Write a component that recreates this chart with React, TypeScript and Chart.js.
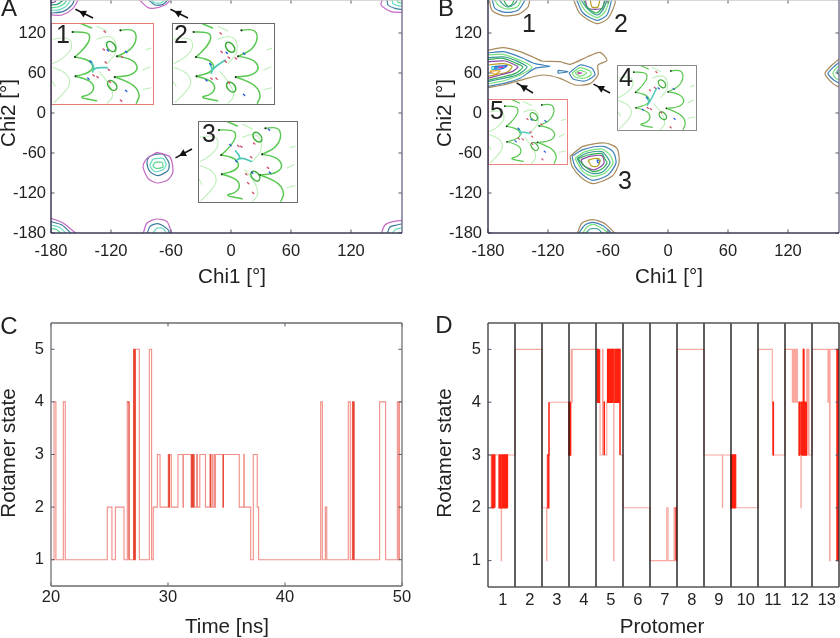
import React, { useEffect, useRef } from "react";
import { Chart, registerables } from "chart.js";

Chart.register(...registerables);

type P = [number, number];

const chiTicks = [-180, -120, -60, 0, 60, 120];
const stateTicks = [1, 2, 3, 4, 5];
const timeTicks = [20, 30, 40, 50];
const protomerTicks = [0.55, 1.55, 2.55, 3.55, 4.55, 5.55, 6.55, 7.55, 8.55, 9.55, 10.55, 11.55, 12.55];
const protomerLabels = ["1", "2", "3", "4", "5", "6", "7", "8", "9", "10", "11", "12", "13"];
const protomerEdges = [1, 2, 3, 4, 5, 6, 7, 8, 9, 10, 11, 12];

// ---- Panel A contour rings (chi1, chi2), outermost first ----
const aCentre: P[][] = [
  [[-74, -59], [-61, -66], [-58, -88], [-63, -100], [-74, -105], [-83, -98], [-88, -80], [-84, -68], [-74, -59]],
  [[-76, -62], [-68, -62], [-62, -75], [-63, -86], [-73, -94], [-81, -88], [-84, -75], [-82, -66], [-76, -62]],
  [[-78, -69], [-68, -68], [-65, -78], [-68, -85], [-76, -88], [-81, -79], [-78, -69]],
  [[-76, -74], [-69, -74], [-68, -81], [-75, -83], [-78, -79], [-76, -74]],
];
const aTopLeft: P[][] = [
  [[-180, 147], [-169, 147], [-158, 157], [-152, 172]],
  [[-180, 150], [-168, 152], [-159, 162], [-156, 172]],
  [[-180, 154], [-171, 155], [-163, 163], [-160, 172]],
  [[-180, 158], [-173, 159], [-166, 165], [-164, 172]],
  [[-180, 162], [-174, 163], [-169, 168], [-168, 172]],
  [[-180, 165], [-176, 167], [-174, 172]],
];
const aTopMid: P[][] = [
  [[-93, 172], [-84, 159], [-78, 157], [-66, 162], [-59, 172]],
  [[-84, 172], [-76, 162], [-68, 163], [-62, 172]],
  [[-81, 172], [-76, 165], [-69, 166], [-66, 172]],
];
const aBottomMid: P[][] = [
  [[-88, -182], [-84, -165], [-74, -159], [-64, -163], [-59, -182]],
  [[-84, -182], [-81, -170], [-73, -166], [-63, -175], [-61, -182]],
  [[-79, -182], [-74, -173], [-68, -173], [-64, -182]],
];
const aBottomLeft: P[][] = [
  [[-180, -158], [-168, -165], [-154, -182]],
  [[-180, -163], [-169, -168], [-159, -182]],
  [[-180, -168], [-171, -172], [-164, -182]],
  [[-180, -173], [-174, -175], [-169, -182]],
];
const aTopRight: P[][] = [
  [[152, 172], [150, 162], [160, 152], [172, 151]],
  [[156, 172], [157, 162], [164, 157], [172, 155]],
  [[161, 172], [162, 164], [167, 161], [172, 160]],
  [[166, 172], [167, 166], [172, 165]],
];
const aBottomRight: P[][] = [
  [[150, -182], [154, -168], [162, -163], [172, -161]],
  [[156, -182], [159, -171], [166, -168], [172, -166]],
  [[161, -182], [164, -175], [172, -172]],
];

// ---- Panel B contour rings ----
const bRidge: P[][] = [
  [[-180, 94], [-165, 98], [-148, 92], [-135, 84], [-126, 78], [-108, 77], [-98, 73], [-81, 84], [-68, 91], [-61, 79], [-70, 72], [-70, 57], [-78, 44], [-93, 42], [-108, 52], [-125, 57], [-148, 49], [-165, 42], [-180, 38]],
  [[-180, 90], [-165, 92], [-148, 84], [-133, 74], [-118, 70], [-133, 67], [-148, 52], [-165, 44], [-180, 40]],
  [[-180, 87], [-165, 88], [-148, 79], [-136, 69], [-148, 57], [-165, 48], [-180, 44]],
  [[-180, 83], [-163, 84], [-150, 77], [-141, 69], [-151, 57], [-165, 52], [-180, 47]],
  [[-180, 80], [-165, 82], [-151, 74], [-145, 69], [-153, 59], [-166, 54], [-180, 49]],
  [[-180, 77], [-163, 78], [-153, 72], [-150, 69], [-156, 62], [-168, 57], [-180, 52]],
  [[-180, 72], [-165, 74], [-156, 70], [-160, 62], [-171, 58], [-180, 55]],
  [[-173, 70], [-161, 71], [-165, 67], [-173, 66], [-173, 70]],
  [[-178, 63], [-168, 63], [-173, 58], [-178, 63]],
  [[-176, 70], [-170, 68], [-176, 65], [-176, 70]],
  [[-172, 69], [-164, 69], [-172, 68], [-172, 69]],
];
const bRidgeKnob: P[][] = [
  [[-110, 64], [-100, 62], [-110, 60], [-110, 64]],
  [[-99, 60], [-88, 72], [-76, 67], [-73, 57], [-83, 48], [-95, 51], [-99, 60]],
  [[-96, 60], [-88, 68], [-78, 63], [-77, 57], [-85, 52], [-93, 54], [-96, 60]],
  [[-93, 60], [-88, 64], [-81, 60], [-88, 55], [-93, 60]],
  [[-90, 61], [-86, 60], [-90, 59], [-90, 61]],
];
const bKnobColours = ["#3f80b8", "#3f80b8", "#78e078", "#78e078", "#c050b0"];
const bTopLeft: P[][] = [
  [[-179, 172], [-176, 154], [-165, 146], [-150, 148], [-140, 159], [-138, 172]],
  [[-176, 172], [-173, 157], [-163, 151], [-150, 154], [-142, 172]],
  [[-174, 172], [-170, 162], [-162, 156], [-151, 159], [-146, 172]],
  [[-170, 172], [-165, 163], [-160, 159], [-153, 164], [-150, 172]],
  [[-165, 172], [-162, 163], [-159, 160], [-155, 165], [-154, 172]],
];
const bTopMid: P[][] = [
  [[-95, 172], [-88, 149], [-71, 134], [-60, 142], [-53, 164], [-53, 172]],
  [[-92, 172], [-85, 150], [-71, 139], [-61, 147], [-56, 172]],
  [[-90, 172], [-83, 154], [-71, 143], [-63, 152], [-58, 172]],
  [[-88, 172], [-81, 157], [-71, 147], [-65, 155], [-60, 172]],
  [[-85, 172], [-81, 159], [-72, 150], [-66, 157], [-62, 172]],
  [[-83, 172], [-80, 157], [-66, 157], [-63, 172]],
  [[-78, 172], [-76, 159], [-70, 159], [-68, 172]],
];
const bCentre: P[][] = [
  [[-98, -65], [-85, -50], [-63, -45], [-51, -53], [-49, -75], [-56, -95], [-75, -106], [-86, -98], [-96, -80], [-98, -65]],
  [[-96, -65], [-85, -55], [-65, -50], [-55, -58], [-52, -75], [-60, -93], [-75, -101], [-85, -93], [-93, -80], [-96, -65]],
  [[-93, -68], [-83, -58], [-66, -54], [-58, -63], [-55, -75], [-63, -90], [-75, -95], [-85, -88], [-93, -68]],
  [[-91, -68], [-81, -60], [-66, -58], [-60, -68], [-58, -75], [-65, -88], [-75, -91], [-85, -83], [-91, -68]],
  [[-90, -69], [-80, -63], [-66, -61], [-63, -69], [-61, -75], [-66, -84], [-75, -88], [-83, -80], [-90, -69]],
  [[-87, -70], [-78, -65], [-66, -64], [-64, -75], [-70, -83], [-76, -85], [-85, -78], [-87, -70]],
  [[-80, -71], [-73, -68], [-68, -70], [-70, -79], [-76, -80], [-80, -71]],
  [[-71, -70], [-68, -72], [-70, -75], [-71, -70]],
];
const bBottomMid: P[][] = [
  [[-91, -182], [-86, -165], [-75, -160], [-63, -166], [-52, -182]],
  [[-90, -182], [-83, -168], [-75, -164], [-65, -169], [-55, -182]],
  [[-86, -182], [-81, -171], [-75, -167], [-66, -173], [-58, -182]],
  [[-83, -182], [-78, -174], [-70, -174], [-65, -182]],
];
const bRight: P[][] = [
  [[172, 82], [164, 72], [157, 59], [165, 44], [172, 38]],
  [[172, 77], [165, 68], [160, 59], [166, 49], [172, 44]],
  [[172, 72], [167, 65], [165, 59], [168, 52], [172, 49]],
  [[172, 67], [169, 62], [172, 54]],
];

// ---- Panel C: time at which the rotamer state changes, and the new state ----
const timeSteps = [20, 20.26, 20.42, 21.05, 21.22, 24.81, 25.21, 25.5, 26.24, 26.52, 26.67, 27.05, 27.08, 27.12, 27.15, 27.2, 27.55, 28.4, 28.6, 28.74, 29.09, 29.32, 30.02, 30.07, 30.13, 30.28, 30.85, 31.28, 31.32, 31.97, 32.02, 32.1, 32.15, 32.22, 32.45, 32.52, 32.72, 33.2, 33.58, 33.63, 33.75, 33.85, 33.98, 34.03, 34.06, 34.68, 34.73, 36.09, 36.48, 36.52, 37.07, 37.29, 37.63, 37.75, 43.05, 43.19, 43.45, 43.57, 45.41, 45.58, 45.76, 45.8, 45.84, 45.9, 48.09, 48.6, 49.6, 49.72, 49.78, 50];
const stateSteps = [1, 4, 1, 4, 1, 2, 1, 2, 1, 4, 1, 5, 1, 5, 1, 5, 1, 5, 1, 2, 3, 2, 3, 2, 3, 2, 3, 2, 3, 2, 3, 2, 3, 2, 3, 2, 3, 2, 3, 2, 3, 2, 3, 2, 3, 2, 3, 2, 3, 2, 1, 3, 2, 1, 4, 1, 2, 1, 4, 1, 4, 1, 4, 1, 4, 1, 4, 1, 4, 4];
// stretches of the time trace that read as darker, denser switching
const timeBursts: P[] = [[26.52, 26.67], [27.05, 27.2], [30.02, 30.13], [31.97, 32.22], [33.58, 33.63], [34.68, 34.73], [45.76, 45.9]];

// ---- Panel D: position along the protomer axis at which the state changes ----
const protomerSteps: P[] = [
  [0, 3], [0.12, 2], [0.15, 3], [0.18, 2], [0.21, 3], [0.25, 2], [0.25, 3], [0.39, 2], [0.42, 3], [0.45, 2], [0.48, 3], [0.49, 1], [0.5, 2], [0.52, 3], [0.55, 2], [0.58, 3], [0.61, 2], [0.64, 3], [0.67, 2], [0.7, 3], [0.72, 2], [0.72, 3], [1, 3],
  [1, 5], [2, 5],
  [2, 2], [2.17, 1], [2.18, 2], [2.19, 3], [2.22, 2], [2.25, 3], [2.26, 4], [3, 4],
  [3, 3], [3.02, 4], [3.04, 3], [3.06, 4], [3.08, 5], [3.11, 4], [3.12, 5], [4, 5],
  [4.03, 4], [4.06, 5], [4.09, 4], [4.12, 5], [4.15, 3], [4.24, 5], [4.26, 3], [4.28, 4], [4.31, 3], [4.4, 4], [4.43, 5], [4.46, 4], [4.49, 5], [4.52, 4], [4.55, 5], [4.58, 4], [4.61, 5], [4.64, 4], [4.655, 1], [4.665, 4], [4.7, 5], [4.73, 4], [4.76, 5], [4.79, 4], [4.82, 5], [4.85, 4], [4.88, 5], [4.89, 3], [5, 3],
  [5, 2], [6, 2],
  [6, 1], [6.62, 2], [6.67, 1], [6.89, 2], [6.92, 1], [6.94, 2], [6.97, 1], [7, 1],
  [7, 5], [8, 5],
  [8, 3], [8.68, 2], [8.69, 3], [9, 3],
  [9, 2], [9.03, 3], [9.06, 2], [9.09, 3], [9.12, 2], [9.15, 3], [9.17, 2], [10, 2],
  [10, 5], [10.53, 4], [10.55, 3], [10.56, 4], [10.57, 3], [11, 3],
  [11, 5], [11.27, 4], [11.3, 5], [11.33, 4], [11.36, 5], [11.39, 4], [11.43, 5], [11.46, 4], [11.5, 3], [11.53, 4], [11.56, 3], [11.59, 2], [11.6, 3], [11.62, 4], [11.65, 3], [11.68, 5], [11.7, 3], [11.73, 4], [11.76, 3], [11.79, 4], [11.8, 5], [11.82, 3], [11.86, 5], [11.89, 3], [12, 3],
  [12, 5], [12.59, 4], [12.62, 5], [12.65, 1], [12.67, 5], [12.91, 1], [12.93, 5], [12.95, 1], [12.97, 5], [13, 1],
];
// stretches of the protomer trace where switching is so dense that it reads as solid red
const protomerBursts: P[] = [[0.12, 0.25], [0.39, 0.48], [0.5, 0.72], [2.19, 2.26], [3, 3.06], [4.03, 4.12], [4.28, 4.31], [4.4, 4.64], [4.665, 4.89], [6.94, 6.97], [9, 9.17], [10.55, 10.57], [11.5, 11.56], [11.6, 11.79], [12.91, 12.97]];

// ---- styling ----
const FONT = "'Liberation Sans', Arial, sans-serif";
const INK = "#222222";
const aPalette = ["#c468c4", "#3d7d9a", "#66dcc0", "#58d890", "#2fa070", "#8a50a8"];
const bPalette = ["#a88a5c", "#3f80b8", "#78e078", "#3a9a90", "#30b050", "#8e4aa8", "#b8a020", "#2468e0", "#e8a020", "#20c0d0", "#e04090", "#ffffff"];
const TRACE_C = "#f08e86";
const TRACE_C_DARK = "#e8402f";
const TRACE_D = "#f8a69e";
const TRACE_D_DARK = "#ff2010";

type InsetSpec = {
  x: number; y: number; w: number; h: number; border: string;
  rings: P[]; cyan: P[]; reds: P[]; blues: P[];
};
const strandsDark: P[][] = [
  [[0.212, 0.111], [0.355, 0.103], [0.391, 0.185], [0.332, 0.309], [0.235, 0.42]],
  [[0.235, 0.42], [0.365, 0.444], [0.423, 0.547], [0.365, 0.617], [0.241, 0.658]],
  [[0.241, 0.658], [0.381, 0.7], [0.43, 0.802], [0.381, 0.885], [0.267, 0.918], [0.446, 0.96]],
  [[0.681, 0.091], [0.805, 0.062], [0.847, 0.185], [0.788, 0.329], [0.648, 0.412]],
  [[0.648, 0.412], [0.788, 0.432], [0.863, 0.556], [0.788, 0.65], [0.625, 0.667]],
  [[0.625, 0.667], [0.805, 0.741], [0.876, 0.885], [0.837, 0.99]],
  [[0.283, 0.0], [0.397, 0.062]],
];
const strandsFaint: P[][] = [
  [[0.02, 0.2], [0.17, 0.16], [0.22, 0.3], [0.12, 0.44], [0.02, 0.5]],
  [[0.02, 0.55], [0.15, 0.6], [0.2, 0.75], [0.1, 0.9], [0.03, 0.98]],
  [[0.45, 0.2], [0.6, 0.12], [0.66, 0.35], [0.55, 0.5]],
  [[0.47, 0.6], [0.56, 0.72], [0.62, 0.9], [0.55, 0.99]],
  [[0.93, 0.33], [0.98, 0.31]], [[0.9, 0.58], [0.97, 0.54]], [[0.9, 0.82], [0.98, 0.8]],
  [[0.01, 0.72], [0.04, 0.78]], [[0.45, 0.04], [0.55, 0.1]],
];
const insetsA: InsetSpec[] = [
  { x: 51, y: 23, w: 102, h: 81, border: "#e87a74", rings: [[0.59, 0.29], [0.6, 0.77]], cyan: [[0.39, 0.47], [0.43, 0.55], [0.4, 0.62], [0.43, 0.55], [0.55, 0.55]], reds: [[0.53, 0.48], [0.56, 0.57], [0.41, 0.64], [0.45, 0.66], [0.57, 0.72], [0.51, 0.32], [0.69, 0.41], [0.68, 0.95], [0.52, 0.1]], blues: [[0.38, 0.47], [0.36, 0.68], [0.73, 0.83], [0.73, 0.35], [0.55, 0.33]] },
  { x: 172, y: 23, w: 102, h: 81, border: "#6a6a6a", rings: [[0.57, 0.3], [0.58, 0.79]], cyan: [[0.37, 0.5], [0.4, 0.56], [0.38, 0.64], [0.4, 0.56], [0.52, 0.46]], reds: [[0.48, 0.35], [0.52, 0.47], [0.55, 0.42], [0.38, 0.68], [0.43, 0.68], [0.55, 0.73], [0.62, 0.43], [0.47, 0.12]], blues: [[0.37, 0.5], [0.33, 0.7], [0.7, 0.88], [0.7, 0.37], [0.53, 0.36]] },
  { x: 198, y: 121, w: 99, h: 81, border: "#6a6a6a", rings: [[0.58, 0.68], [0.6, 0.2]], cyan: [[0.38, 0.37], [0.44, 0.45], [0.38, 0.49], [0.44, 0.45], [0.54, 0.5]], reds: [[0.4, 0.3], [0.43, 0.31], [0.53, 0.44], [0.48, 0.65], [0.5, 0.76], [0.55, 0.88], [0.56, 0.27], [0.7, 0.57]], blues: [[0.38, 0.49], [0.32, 0.29], [0.72, 0.63], [0.71, 0.1], [0.54, 0.63]] },
];
const insetsB: InsetSpec[] = [
  { x: 197, y: 65, w: 79, h: 65, border: "#8a8a8a", rings: [[0.57, 0.29], [0.58, 0.78]], cyan: [[0.37, 0.5], [0.42, 0.56], [0.37, 0.64], [0.42, 0.56], [0.5, 0.36]], reds: [[0.41, 0.38], [0.47, 0.34], [0.38, 0.65], [0.42, 0.67], [0.55, 0.72], [0.49, 0.1], [0.67, 0.95]], blues: [[0.37, 0.49], [0.32, 0.68], [0.72, 0.82], [0.71, 0.36], [0.52, 0.35]] },
  { x: 68, y: 99, w: 79, h: 65, border: "#ec8484", rings: [[0.58, 0.27], [0.59, 0.73]], cyan: [[0.38, 0.45], [0.42, 0.5], [0.42, 0.55], [0.42, 0.5], [0.53, 0.53]], reds: [[0.53, 0.5], [0.55, 0.57], [0.38, 0.6], [0.43, 0.61], [0.55, 0.68], [0.49, 0.3], [0.67, 0.38], [0.68, 0.92]], blues: [[0.38, 0.45], [0.34, 0.64], [0.71, 0.8], [0.72, 0.33], [0.54, 0.31]] },
];

type TextSpec = { t: string; x: number; y: number; size: number; rot?: boolean };
const AXIS = 20.6;
const textA: TextSpec[] = [
  { t: "Chi1 [°]", x: 232, y: 277, size: AXIS }, { t: "Chi2 [°]", x: 9, y: 113, size: AXIS, rot: true },
  { t: "A", x: 9, y: 9, size: 24 }, { t: "1", x: 63, y: 36, size: 25 }, { t: "2", x: 181, y: 36, size: 25 }, { t: "3", x: 209, y: 135, size: 25 },
];
const textB: TextSpec[] = [
  { t: "Chi1 [°]", x: 249, y: 277, size: AXIS }, { t: "Chi2 [°]", x: 25, y: 113, size: AXIS, rot: true },
  { t: "B", x: 26, y: 9, size: 24 }, { t: "1", x: 109, y: 25, size: 25 }, { t: "2", x: 201, y: 25, size: 25 }, { t: "3", x: 205, y: 182, size: 25 }, { t: "4", x: 206, y: 79, size: 25 }, { t: "5", x: 77, y: 112, size: 25 },
];
const textC: TextSpec[] = [
  { t: "Time [ns]", x: 227, y: 317, size: AXIS }, { t: "Rotamer state", x: 9, y: 143, size: AXIS, rot: true },
  { t: "C", x: 9, y: 17, size: 24 },
];
const textD: TextSpec[] = [
  { t: "Protomer", x: 242, y: 317, size: AXIS }, { t: "Rotamer state", x: 25, y: 143, size: AXIS, rot: true },
  { t: "D", x: 24, y: 16, size: 24 },
];
const arrowsA: [number, number, number, number][] = [[93, 18, 79, 11], [188, 18, 174, 11], [192, 149, 179, 156]];
const arrowsB: [number, number, number, number][] = [[113, 93, 100, 85], [190, 93, 177, 86]];

function smooth(ctx: CanvasRenderingContext2D, pts: P[], b: InsetSpec) {
  const X = (p: P) => b.x + p[0] * b.w;
  const Y = (p: P) => b.y + p[1] * b.h;
  ctx.beginPath();
  ctx.moveTo(X(pts[0]), Y(pts[0]));
  for (let i = 1; i < pts.length - 1; i++) {
    const mx = (X(pts[i]) + X(pts[i + 1])) / 2;
    const my = (Y(pts[i]) + Y(pts[i + 1])) / 2;
    ctx.quadraticCurveTo(X(pts[i]), Y(pts[i]), mx, my);
  }
  const l = pts[pts.length - 1];
  ctx.lineTo(X(l), Y(l));
  ctx.stroke();
}

function drawInset(ctx: CanvasRenderingContext2D, b: InsetSpec) {
  const k = b.w / 102;
  ctx.save();
  ctx.fillStyle = "#ffffff";
  ctx.fillRect(b.x, b.y, b.w, b.h);
  ctx.beginPath();
  ctx.rect(b.x, b.y, b.w, b.h);
  ctx.clip();
  ctx.lineCap = "round";
  ctx.strokeStyle = "#bdeeb8";
  ctx.lineWidth = 1.1;
  strandsFaint.forEach((s) => smooth(ctx, s, b));
  ctx.strokeStyle = "#58c850";
  ctx.lineWidth = 1.3 * k + 0.2;
  strandsDark.forEach((s) => smooth(ctx, s, b));
  ctx.fillStyle = "#1c3a1c";
  strandsDark.slice(0, 6).forEach((s) => {
    ctx.beginPath();
    ctx.arc(b.x + s[0][0] * b.w, b.y + s[0][1] * b.h, 1 * k + 0.1, 0, Math.PI * 2);
    ctx.fill();
  });
  ctx.strokeStyle = "#3cae38";
  ctx.lineWidth = 1.5 * k;
  b.rings.forEach((r) => {
    ctx.beginPath();
    ctx.ellipse(b.x + r[0] * b.w, b.y + r[1] * b.h, 3.2 * k + 0.5, 5.2 * k + 0.5, -0.7, 0, Math.PI * 2);
    ctx.stroke();
  });
  ctx.strokeStyle = "#4cc8b8";
  ctx.lineWidth = 1.5 * k + 0.2;
  smooth(ctx, b.cyan, b);
  const stub = (list: P[], color: string) => {
    ctx.strokeStyle = color;
    ctx.lineWidth = 1.2 * k + 0.2;
    list.forEach((p) => {
      ctx.beginPath();
      ctx.moveTo(b.x + p[0] * b.w, b.y + p[1] * b.h);
      ctx.lineTo(b.x + p[0] * b.w + 1.4, b.y + p[1] * b.h + 1.2);
      ctx.stroke();
    });
  };
  stub(b.reds, "#d0506a");
  stub(b.blues, "#2a5ad8");
  ctx.restore();
  ctx.strokeStyle = b.border;
  ctx.lineWidth = 1;
  ctx.strokeRect(Math.round(b.x) + 0.5, Math.round(b.y) + 0.5, b.w, b.h);
}

type Overlay = {
  texts: TextSpec[];
  insets: InsetSpec[];
  arrows: [number, number, number, number][];
  spines: { left: string; right: string; top: string; bottom: string; w: number };
  xTicks: boolean;
};

function overlayPlugin(o: Overlay) {
  return {
    id: "overlay",
    afterDatasetsDraw(chart: any) {
      const ctx: CanvasRenderingContext2D = chart.ctx;
      const a = chart.chartArea;
      ctx.save();
      const seg = (x1: number, y1: number, x2: number, y2: number, c: string, w: number) => {
        ctx.strokeStyle = c;
        ctx.lineWidth = w;
        ctx.beginPath();
        ctx.moveTo(x1, y1);
        ctx.lineTo(x2, y2);
        ctx.stroke();
      };
      const tick = "#555566";
      chart.scales.y.ticks.forEach((t: any) => {
        const y = chart.scales.y.getPixelForValue(t.value);
        seg(a.left, y, a.left + 3.5, y, tick, 1);
        seg(a.right, y, a.right - 3.5, y, tick, 1);
      });
      if (o.xTicks) {
        chart.scales.x.ticks.forEach((t: any) => {
          const x = chart.scales.x.getPixelForValue(t.value);
          seg(x, a.bottom, x, a.bottom - 3.5, tick, 1);
          seg(x, a.top, x, a.top + 3.5, tick, 1);
        });
      }
      o.insets.forEach((b) => drawInset(ctx, b));
      const s = o.spines;
      seg(a.left, a.top, a.right, a.top, s.top, s.w);
      seg(a.right, a.top, a.right, a.bottom, s.right, s.w);
      seg(a.left, a.bottom, a.right, a.bottom, s.bottom, s.w);
      seg(a.left, a.top, a.left, a.bottom, s.left, s.w);
      o.arrows.forEach(([x1, y1, x2, y2]) => {
        ctx.strokeStyle = "#111111";
        ctx.fillStyle = "#111111";
        ctx.lineWidth = 1.5;
        const ang = Math.atan2(y2 - y1, x2 - x1);
        ctx.beginPath();
        ctx.moveTo(x1, y1);
        ctx.lineTo(x2 + 4 * Math.cos(ang), y2 + 4 * Math.sin(ang));
        ctx.stroke();
        ctx.beginPath();
        ctx.moveTo(x2, y2);
        ctx.lineTo(x2 - 8 * Math.cos(ang + 0.5), y2 - 8 * Math.sin(ang + 0.5));
        ctx.lineTo(x2 - 8 * Math.cos(ang - 0.5), y2 - 8 * Math.sin(ang - 0.5));
        ctx.closePath();
        ctx.fill();
      });
      ctx.fillStyle = INK;
      ctx.textAlign = "center";
      ctx.textBaseline = "middle";
      o.texts.forEach((t) => {
        ctx.font = `${t.size}px ${FONT}`;
        ctx.save();
        ctx.translate(t.x, t.y);
        if (t.rot) ctx.rotate(-Math.PI / 2);
        ctx.fillText(t.t, 0, 0);
        ctx.restore();
      });
      ctx.restore();
    },
  };
}

function ringDatasets(groups: P[][][], palette: string[], width = 1.2) {
  const out: any[] = [];
  groups.forEach((rings) =>
    rings.forEach((r, i) =>
      out.push({
        data: r.map(([x, y]) => ({ x, y })),
        showLine: true,
        pointRadius: 0,
        borderColor: palette[i % palette.length],
        borderWidth: width,
        tension: 0.25,
      })
    )
  );
  return out;
}

function axis(
  min: number, max: number, values: number[], horizontal: boolean, size: number, padding: number,
  labels?: (v: number) => string
) {
  return {
    type: "linear" as const,
    min,
    max,
    grid: { display: false, drawTicks: false },
    border: { display: false },
    afterBuildTicks: (s: any) => { s.ticks = values.map((value) => ({ value })); },
    afterFit: (s: any) => {
      if (horizontal) s.height = size; else s.width = size;
      s.paddingTop = 0; s.paddingBottom = 0; s.paddingLeft = 0; s.paddingRight = 0;
    },
    ticks: {
      autoSkip: false, maxRotation: 0, minRotation: 0, padding, color: INK,
      font: { family: FONT, size: 16.5 },
      callback: (v: any) => (labels ? labels(Number(v)) : String(v)),
    },
  };
}

function baseOptions(x: any, y: any, padding: any) {
  return {
    responsive: false,
    animation: false as const,
    layout: { padding },
    events: [] as any[],
    scales: { x, y },
    plugins: { legend: { display: false }, tooltip: { enabled: false }, title: { display: false } },
  };
}

function useChart(build: () => any) {
  const ref = useRef<HTMLCanvasElement | null>(null);
  useEffect(() => {
    const chart = new Chart(ref.current as HTMLCanvasElement, build());
    return () => chart.destroy();
  }, []);
  return ref;
}

// Chart.js paints dataset 0 last, so the dense stretches come first to sit on top of the pale line.
function traceDatasets(points: P[], bursts: P[], light: string, dark: string, lightWidth: number, darkWidth: number) {
  const line = (pts: P[], color: string, width: number) => ({
    data: pts.map(([x, y]) => ({ x, y })),
    showLine: true, pointRadius: 0, stepped: true, borderColor: color, borderWidth: width,
  });
  return [
    ...bursts.map(([from, to]) => line(points.filter(([x]) => x >= from && x <= to), dark, darkWidth)),
    line(points, light, lightWidth),
  ];
}

const darkSpines = { left: "#3a3a58", right: "#7a7a96", top: "#c8c8c8", bottom: "#3a3a58", w: 1.5 };
const graySpines = { left: "#7a7a80", right: "#7a7a80", top: "#6a6a70", bottom: "#6a6a70", w: 1.4 };
const blackSpines = { left: "#444450", right: "#333333", top: "#555555", bottom: "#555555", w: 1.4 };

function chartA() {
  return {
    type: "scatter",
    data: { datasets: ringDatasets([aCentre, aTopLeft, aTopMid, aBottomMid, aBottomLeft, aTopRight, aBottomRight], aPalette) },
    options: baseOptions(axis(-180, 171, chiTicks, true, 77, 9), axis(-180, 169.5, chiTicks, false, 51, 5), { right: 18 }),
    plugins: [overlayPlugin({ texts: textA, insets: insetsA, arrows: arrowsA, spines: darkSpines, xTicks: true })],
  };
}

function chartB() {
  const knob = bRidgeKnob.map((r, i) => ({
    data: r.map(([x, y]) => ({ x, y })), showLine: true, pointRadius: 0, borderColor: bKnobColours[i], borderWidth: 1.2, tension: 0.2,
  }));
  return {
    type: "scatter",
    data: { datasets: [...ringDatasets([bRidge, bTopLeft, bTopMid, bCentre, bBottomMid, bRight], bPalette), ...knob] },
    options: baseOptions(axis(-180, 171, chiTicks, true, 77, 9), axis(-180, 169.5, chiTicks, false, 68, 6), { right: 1 }),
    plugins: [overlayPlugin({ texts: textB, insets: insetsB, arrows: arrowsB, spines: darkSpines, xTicks: true })],
  };
}

function chartC() {
  const pts = timeSteps.map((x, i) => [x, stateSteps[i]] as P);
  return {
    type: "scatter",
    data: { datasets: traceDatasets(pts, timeBursts, TRACE_C, TRACE_C_DARK, 1.1, 1) },
    options: baseOptions(axis(20, 50, timeTicks, true, 52, 2), axis(0.5, 5.5, stateTicks, false, 51, 7), { right: 18, top: 13 }),
    plugins: [overlayPlugin({ texts: textC, insets: [], arrows: [], spines: graySpines, xTicks: true })],
  };
}

function chartD() {
  const dividers = protomerEdges.map((e) => ({
    data: [{ x: e, y: 0.5 }, { x: e, y: 5.5 }],
    showLine: true, pointRadius: 0, borderColor: "#1c1c1c", borderWidth: 1.4,
  }));
  return {
    type: "scatter",
    data: { datasets: [...dividers, ...traceDatasets(protomerSteps, protomerBursts, TRACE_D, TRACE_D_DARK, 1.1, 1.4)] },
    options: baseOptions(
      axis(0, 13, protomerTicks, true, 51, 4, (v) => protomerLabels[protomerTicks.indexOf(v)] ?? ""),
      axis(0.5, 5.5, stateTicks, false, 68, 7),
      { right: 1, top: 13 }
    ),
    plugins: [overlayPlugin({ texts: textD, insets: [], arrows: [], spines: blackSpines, xTicks: false })],
  };
}

export default function App() {
  const a = useChart(chartA);
  const b = useChart(chartB);
  const c = useChart(chartC);
  const d = useChart(chartD);
  const pos = (left: number, top: number): React.CSSProperties => ({ position: "absolute", left, top });
  return (
    <div style={{ position: "absolute", left: 0, top: 0, width: 840, height: 638, background: "#fff", overflow: "hidden" }}>
      <canvas ref={a} width={420} height={310} style={pos(0, 0)} />
      <canvas ref={b} width={420} height={310} style={pos(420, 0)} />
      <canvas ref={c} width={420} height={328} style={pos(0, 310)} />
      <canvas ref={d} width={420} height={328} style={pos(420, 310)} />
    </div>
  );
}
